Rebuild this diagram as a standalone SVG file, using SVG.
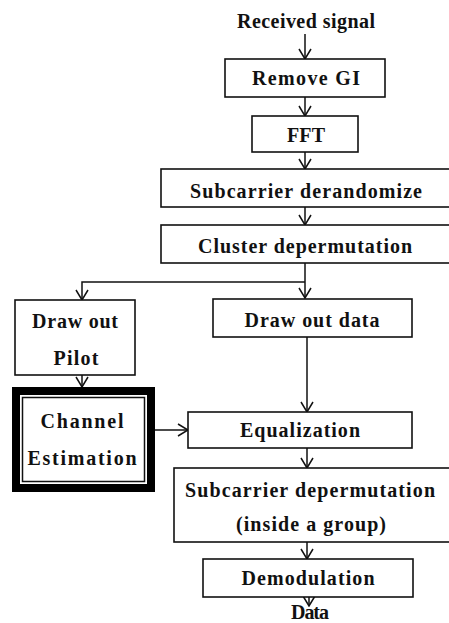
<svg xmlns="http://www.w3.org/2000/svg" width="449" height="623" viewBox="0 0 449 623">
<style>
text{font-family:"Liberation Serif","Times New Roman",serif;font-weight:bold;font-size:20px;fill:#111;text-anchor:middle}
.box{fill:#fff;stroke:#111;stroke-width:1.6}
.edge{fill:none;stroke:#111;stroke-width:1.5}
</style>
<defs>
<marker id="arr" viewBox="-11 -8 12 16" refX="0" refY="0" markerWidth="12" markerHeight="16" markerUnits="userSpaceOnUse" orient="auto">
<path d="M-10,-6 L0,0 L-10,6" fill="none" stroke="#111" stroke-width="1.5"/>
</marker>
</defs>
<rect width="449" height="623" fill="#fff"/>
<g id="connectors">
<path class="edge" d="M305,34 V59" marker-end="url(#arr)"/>
<path class="edge" d="M305,97 V116" marker-end="url(#arr)"/>
<path class="edge" d="M305,152 V169" marker-end="url(#arr)"/>
<path class="edge" d="M305,207 V225" marker-end="url(#arr)"/>
<path class="edge" d="M305,263 V298" marker-end="url(#arr)"/>
<path class="edge" d="M305,282 H82 V300" marker-end="url(#arr)"/>
<path class="edge" d="M82,375 V387" marker-end="url(#arr)"/>
<path class="edge" d="M307,337 V412" marker-end="url(#arr)"/>
<path class="edge" d="M155,430 H188" marker-end="url(#arr)"/>
<path class="edge" d="M307,448 V468" marker-end="url(#arr)"/>
<path class="edge" d="M307,542 V559" marker-end="url(#arr)"/>
<path class="edge" d="M309,597 V606" marker-end="url(#arr)"/>
</g>
<g id="received"><text x="306" y="28" textLength="138" lengthAdjust="spacing">Received signal</text></g>
<g id="remove_gi"><rect class="box" x="225" y="59" width="160" height="38"/><text x="306" y="85" textLength="108" lengthAdjust="spacing">Remove GI</text></g>
<g id="fft"><rect class="box" x="252" y="116" width="106" height="36"/><text x="306" y="142" textLength="38" lengthAdjust="spacing">FFT</text></g>
<g id="derandomize"><rect class="box" x="161" y="169" width="291" height="38"/><text x="306" y="198" textLength="232" lengthAdjust="spacing">Subcarrier derandomize</text></g>
<g id="cluster"><rect class="box" x="161" y="225" width="291" height="38"/><text x="305" y="253" textLength="214" lengthAdjust="spacing">Cluster depermutation</text></g>
<g id="draw_data"><rect class="box" x="213" y="299" width="199" height="38"/><text x="312" y="327" textLength="135" lengthAdjust="spacing">Draw out data</text></g>
<g id="draw_pilot"><rect class="box" x="15" y="300" width="120" height="75"/><text x="75" y="328" textLength="86" lengthAdjust="spacing">Draw out</text><text x="76" y="365" textLength="45" lengthAdjust="spacing">Pilot</text></g>
<g id="channel_est"><rect x="16" y="391" width="135" height="97" fill="#fff" stroke="#000" stroke-width="8"/><rect x="22.5" y="397.5" width="122" height="84" fill="none" stroke="#111" stroke-width="1.5"/><text x="82" y="428" textLength="83" lengthAdjust="spacing">Channel</text><text x="82" y="465" textLength="109" lengthAdjust="spacing">Estimation</text></g>
<g id="equalization"><rect class="box" x="188" y="412" width="224" height="36"/><text x="300" y="437" textLength="120" lengthAdjust="spacing">Equalization</text></g>
<g id="subcarrier_deperm"><rect class="box" x="174" y="468" width="278" height="74"/><text x="310" y="497" textLength="250" lengthAdjust="spacing">Subcarrier depermutation</text><text x="311" y="531" textLength="150" lengthAdjust="spacing">(inside a group)</text></g>
<g id="demodulation"><rect class="box" x="203" y="559" width="210" height="38"/><text x="308" y="585" textLength="133" lengthAdjust="spacing">Demodulation</text></g>
<g id="data"><text x="310" y="619" textLength="38" lengthAdjust="spacing">Data</text></g>
</svg>
